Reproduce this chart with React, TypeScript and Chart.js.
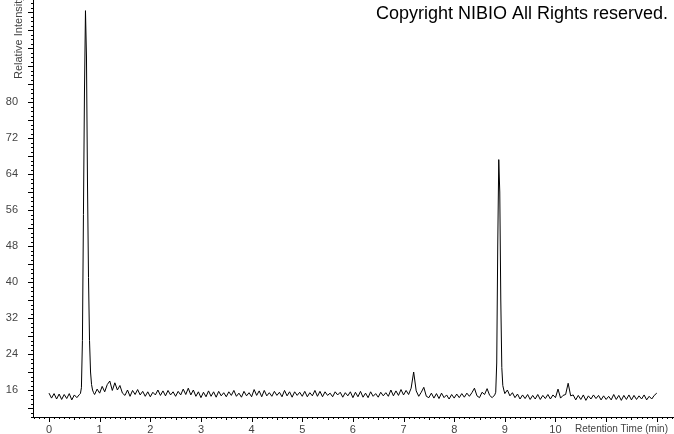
import React, { useEffect, useRef } from 'react';
import { Chart, registerables } from 'chart.js';

Chart.register(...registerables);

// Sampled chromatogram baseline: t = 0.00, 0.05, ... 12.00 min
const baseStart = 0;
const baseStep = 0.05;
const baselineValues = [
  15.3, 14.2, 15.2, 14.0, 15.1, 13.9, 15.0, 14.1, 15.2, 13.8, 14.9, 14.3, 15.0, 15.0, 15.2, 15.4, 15.6, 15.8, 15.0, 16.2,
  15.3, 16.8, 15.6, 17.2, 18.0, 15.9, 17.6, 16.0, 17.0, 15.3, 14.8, 16.0, 14.6, 15.9, 15.0, 16.1, 14.9, 15.7, 14.6, 15.6,
  14.5, 15.5, 14.9, 16.0, 14.8, 15.8, 14.7, 15.9, 14.9, 15.6, 14.6, 15.7, 14.9, 16.2, 15.0, 16.4, 14.9, 16.0, 14.6, 15.6,
  14.3, 15.5, 14.5, 15.8, 14.6, 15.6, 14.4, 15.7, 14.7, 15.4, 14.5, 15.6, 14.8, 15.9, 14.6, 15.3, 14.4, 15.7, 14.7, 15.4,
  14.5, 16.1, 14.8, 15.8, 14.5, 15.9, 14.7, 15.4, 14.6, 15.7, 14.8, 15.5, 14.5, 15.9, 14.7, 15.6, 14.4, 15.6, 14.8, 15.5,
  14.6, 15.7, 14.5, 15.4, 14.7, 15.9, 14.6, 15.7, 14.5, 15.6, 14.8, 15.3, 14.5, 15.6, 14.9, 15.5, 14.4, 15.4, 14.7, 15.6,
  14.3, 15.5, 14.5, 15.7, 14.4, 15.3, 14.3, 15.6, 14.6, 15.2, 14.4, 15.5, 14.7, 15.4, 14.6, 16.0, 14.7, 15.8, 14.8, 16.1,
  14.9, 15.9, 15.0, 16.4, 20.0, 15.8, 14.6, 15.5, 16.6, 14.6, 14.3, 15.3, 14.2, 15.2, 14.1, 15.3, 14.3, 14.9, 14.0, 15.0,
  14.2, 15.1, 14.3, 15.2, 14.4, 15.3, 14.6, 15.4, 16.4, 14.7, 14.3, 15.5, 15.0, 16.3, 14.8, 14.3, 14.9, 15.0, 15.0, 15.0,
  15.2, 16.0, 14.7, 15.4, 14.3, 15.1, 14.0, 14.9, 14.1, 15.0, 13.9, 14.8, 14.0, 15.0, 13.9, 14.8, 14.1, 15.0, 14.0, 14.9,
  14.3, 16.2, 14.2, 14.8, 15.0, 17.5, 14.7, 14.9, 13.8, 14.8, 13.9, 14.9, 13.7, 14.7, 14.0, 14.9, 14.1, 14.8, 13.8, 14.7,
  13.9, 14.6, 13.8, 15.0, 13.9, 14.8, 13.7, 14.8, 13.9, 14.9, 13.8, 14.8, 13.9, 14.7, 14.0, 14.9, 13.8, 14.6, 14.0, 14.8, 15.3,
];

// Peak 1 (~0.72 min)
const peak1Times = [0.62, 0.64, 0.66, 0.68, 0.70, 0.72, 0.74, 0.76, 0.78, 0.80, 0.82, 0.84, 0.86, 0.88];
const peak1Values = [15.2, 16.5, 27, 55, 82, 100.3, 90, 62, 41, 27, 20, 17.2, 16.0, 15.4];

// Peak 2 (~8.88 min)
const peak2Times = [8.82, 8.84, 8.86, 8.88, 8.90, 8.92, 8.94, 8.96, 8.98];
const peak2Values = [15.5, 22, 48, 67.2, 60, 36, 21, 17, 16];

const xLabelMax = 10;
const yLabelMin = 16;
const yLabelMax = 80;

const X_MIN = -0.316;
const X_MAX = 12.34;
const Y_MIN = 10;
const Y_MAX = 102.67;

function buildPoints() {
  const peaks: [number[], number[]][] = [
    [peak1Times, peak1Values],
    [peak2Times, peak2Values],
  ];
  const pts: { x: number; y: number }[] = [];
  baselineValues.forEach((v, i) => {
    const t = Math.round((baseStart + i * baseStep) * 1000) / 1000;
    const inside = peaks.some(([ts]) => t > ts[0] - 0.005 && t < ts[ts.length - 1] + 0.005);
    if (!inside) pts.push({ x: t, y: v });
  });
  peaks.forEach(([ts, vs]) => ts.forEach((t, i) => pts.push({ x: t, y: vs[i] })));
  pts.sort((a, b) => a.x - b.x);
  return pts;
}

const FONT = '"Liberation Sans", Arial, sans-serif';

const decorPlugin = {
  id: 'decor',
  afterDraw(chart: any) {
    const ctx = chart.ctx;
    const xs = chart.scales.x;
    const ys = chart.scales.y;
    const { left, bottom } = chart.chartArea;
    ctx.save();
    ctx.strokeStyle = '#000';
    ctx.lineWidth = 1;
    ctx.beginPath();
    for (let k = Math.ceil(X_MIN * 10); k <= Math.floor(X_MAX * 10); k++) {
      const px = Math.round(xs.getPixelForValue(k / 10)) + 0.5;
      const len = k % 10 === 0 ? 5 : k % 5 === 0 ? 3 : 2;
      ctx.moveTo(px, bottom);
      ctx.lineTo(px, bottom + len);
    }
    for (let v = Math.ceil(Y_MIN); v <= Math.floor(Y_MAX); v++) {
      const py = Math.round(ys.getPixelForValue(v)) + 0.5;
      const len = v % 4 === 0 ? 5 : 2;
      ctx.moveTo(left, py);
      ctx.lineTo(left - len, py);
    }
    ctx.stroke();

    ctx.fillStyle = '#000';
    ctx.font = '18px ' + FONT;
    ctx.textAlign = 'right';
    ctx.textBaseline = 'middle';
    ctx.fillText('Copyright NIBIO All Rights reserved.', 668, 14);

    ctx.fillStyle = '#444';
    ctx.font = '10px ' + FONT;
    ctx.fillText('Retention Time (min)', 668, 429);

    ctx.font = '11px ' + FONT;
    ctx.translate(19, 79);
    ctx.rotate(-Math.PI / 2);
    ctx.textAlign = 'left';
    ctx.fillText('Relative Intensity', 0, 0);
    ctx.restore();
  },
};

export default function App() {
  const ref = useRef<HTMLCanvasElement>(null);
  useEffect(() => {
    if (!ref.current) return;
    const chart = new Chart(ref.current, {
      type: 'line',
      data: {
        datasets: [
          {
            data: buildPoints(),
            borderColor: '#000',
            borderWidth: 1,
            pointRadius: 0,
            tension: 0,
            fill: false,
          },
        ],
      },
      options: {
        animation: false,
        responsive: false,
        parsing: false,
        layout: { padding: 0 },
        plugins: { legend: { display: false }, tooltip: { enabled: false }, title: { display: false } },
        scales: {
          x: {
            type: 'linear',
            min: X_MIN,
            max: X_MAX,
            grid: { display: false, drawTicks: false },
            border: { display: true, color: '#000', width: 1 },
            ticks: {
              stepSize: 1,
              includeBounds: false,
              autoSkip: false,
              maxRotation: 0,
              padding: 6,
              color: '#444',
              font: { family: FONT, size: 11 },
              callback: (v: any) => (Number.isInteger(v) && v >= 0 && v <= xLabelMax ? String(v) : ''),
            },
            afterFit: (s: any) => {
              s.height = 17;
              s.paddingLeft = 0;
              s.paddingRight = 0;
            },
          },
          y: {
            type: 'linear',
            min: Y_MIN,
            max: Y_MAX,
            grid: { display: false, drawTicks: false },
            border: { display: true, color: '#000', width: 1 },
            ticks: {
              stepSize: 4,
              includeBounds: false,
              autoSkip: false,
              padding: 15,
              color: '#444',
              font: { family: FONT, size: 11 },
              callback: (v: any) => (v % 8 === 0 && v >= yLabelMin && v <= yLabelMax ? String(v) : ''),
            },
            afterFit: (s: any) => {
              s.width = 33;
              s.paddingTop = 0;
              s.paddingBottom = 0;
            },
          },
        },
      },
      plugins: [decorPlugin],
    } as any);
    return () => chart.destroy();
  }, []);
  return (
    <div style={{ position: 'absolute', left: 0, top: 0, width: 674, height: 434, background: '#fff' }}>
      <canvas ref={ref} width={674} height={434} style={{ display: 'block' }} />
    </div>
  );
}
